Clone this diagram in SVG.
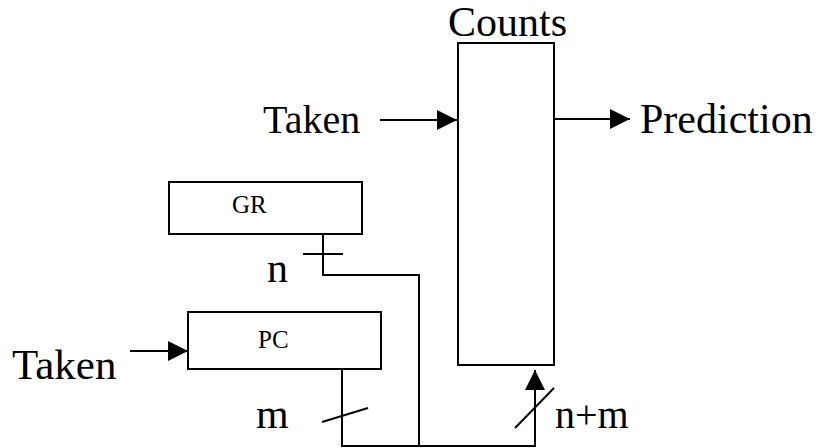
<svg xmlns="http://www.w3.org/2000/svg" width="818" height="448" viewBox="0 0 818 448">
  <style>
    .box { fill: #fff; stroke: #000; stroke-width: 2; }
    .wire { fill: none; stroke: #000; stroke-width: 2; }
    .lbl { font-family: "Liberation Serif", "Times New Roman", serif; fill: #000; }
    .big { font-size: 42px; }
    .small { font-size: 25px; }
  </style>
  <defs>
    <marker id="arrow" markerUnits="userSpaceOnUse" markerWidth="20" markerHeight="20" refX="20" refY="10" orient="auto">
      <path d="M0,0 L20,10 L0,20 Z" fill="#000"/>
    </marker>
  </defs>

  <rect width="818" height="448" fill="#fff"/>

  <!-- Counts table -->
  <g id="counts">
    <rect class="box" x="458" y="43" width="96" height="322"/>
    <text class="lbl big" x="448" y="36">Counts</text>
  </g>

  <!-- Global history register -->
  <g id="gr">
    <rect class="box" x="169" y="182" width="193" height="52"/>
    <text class="lbl small" x="232" y="213">GR</text>
  </g>

  <!-- Program counter -->
  <g id="pc">
    <rect class="box" x="188" y="312" width="193" height="57"/>
    <text class="lbl small" x="258" y="347.5">PC</text>
  </g>

  <!-- Free labels -->
  <g id="taken-top"><text class="lbl" font-size="40" x="263" y="133">Taken</text></g>
  <g id="taken-left"><text class="lbl" font-size="43" x="12" y="379">Taken</text></g>
  <g id="prediction"><text class="lbl big" x="640" y="133">Prediction</text></g>
  <g id="label-n"><text class="lbl big" x="267" y="282">n</text></g>
  <g id="label-m"><text class="lbl big" x="256" y="428">m</text></g>
  <g id="label-nm"><text class="lbl" font-size="40" x="555" y="428">n+m</text></g>

  <!-- Connectors -->
  <g id="connectors">
    <line class="wire" x1="380" y1="120" x2="457" y2="120" marker-end="url(#arrow)"/>
    <line class="wire" x1="554" y1="119" x2="630" y2="119" marker-end="url(#arrow)"/>
    <line class="wire" x1="130" y1="351" x2="188" y2="351" marker-end="url(#arrow)"/>
    <!-- GR output -->
    <polyline class="wire" points="323,234 323,275 419,275 419,446"/>
    <line class="wire" x1="303" y1="254" x2="343" y2="254"/>
    <!-- PC output and merged bus -->
    <polyline class="wire" points="342,369 342,446 535,446 535,392"/>
    <line class="wire" x1="535" y1="392" x2="535" y2="370" marker-end="url(#arrow)"/>
    <line class="wire" x1="322" y1="422" x2="368" y2="408"/>
    <line class="wire" x1="515" y1="428" x2="554" y2="388"/>
  </g>
</svg>
